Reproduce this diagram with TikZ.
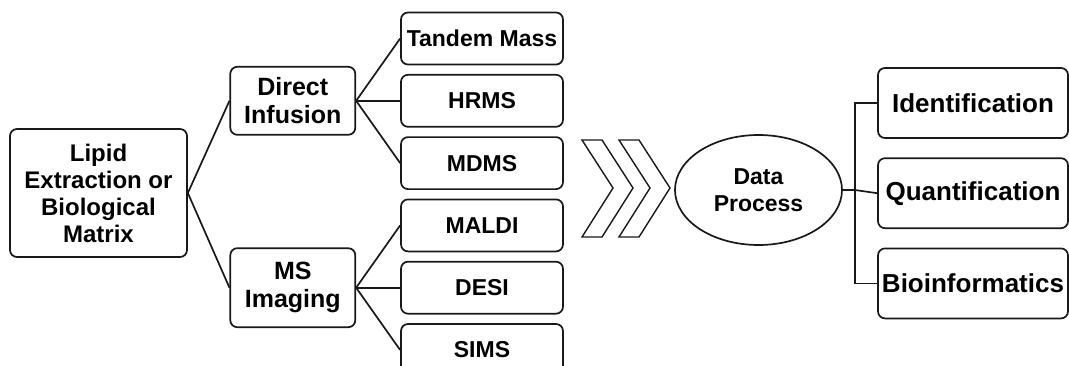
\documentclass[tikz,border=0pt]{standalone}
\usepackage{fontspec}
\setmainfont{Liberation Sans}
\usetikzlibrary{positioning,calc,shapes.geometric}

\begin{document}
\begin{tikzpicture}[
  x=1pt, y=1pt,
  line width=1.7pt,
  box/.style={rectangle, draw=black!90, rounded corners=7pt, align=center, inner sep=2pt},
  leaf/.style={box, minimum width=162pt, minimum height=52pt, font=\fontsize{23}{26}\selectfont\bfseries},
  mid/.style={box, minimum width=125pt, font=\fontsize{25}{28}\selectfont\bfseries},
  res/.style={box, minimum width=190pt, minimum height=70pt, font=\fontsize{26}{29}\selectfont\bfseries},
  link/.style={draw=black!90, line width=1.7pt},
]
\useasboundingbox (0,0) rectangle (1069,365);
% leaf column
\node[leaf] (tandem) at (482,326.5) {Tandem Mass};
\node[leaf, below=8.6pt of tandem] (hrms) {HRMS};
\node[leaf, below=8.6pt of hrms] (mdms) {MDMS};
\node[leaf, below=8.6pt of mdms] (maldi) {MALDI};
\node[leaf, below=8.6pt of maldi] (desi) {DESI};
\node[leaf, below=8.6pt of desi] (sims) {SIMS};
% methods
\node[mid, minimum height=68pt, left=44pt of hrms] (di) {Direct\\Infusion};
\node[mid, minimum height=79pt, left=44pt of desi] (msi) {MS\\Imaging};
\node[box, minimum width=177pt, minimum height=128pt, font=\fontsize{24}{27}\selectfont\bfseries] (lipid) at (98.5,172) {Lipid\\Extraction or\\Biological\\Matrix};
% data processing
\node[ellipse, draw=black!90, minimum width=167pt, minimum height=110pt, inner sep=0pt, align=center, font=\fontsize{23}{27}\selectfont\bfseries] (dp) at (758.5,175) {Data\\Process};
\node[res] (ident) at (973,262) {Identification};
\node[res, below=18.5pt of ident] (quant) {Quantification};
\node[res, below=18.5pt of quant] (bio) {Bioinformatics};
\coordinate (fork) at ($(dp.east)+(12,0)$);
% chevrons
\foreach \dx in {0,37}
  \draw[draw=black!90, line width=1.4pt, shift={(\dx,0)}] (582,225) -- (602,225) -- (633,177) -- (602,128) -- (582,128) -- (613,177) -- cycle;
% links
\draw[link] (lipid.east) -- (di.west);
\draw[link] (lipid.east) -- (msi.west);
\foreach \n in {tandem,hrms,mdms}
  \draw[link] (di.east) -- (\n.west);
\foreach \n in {maldi,desi,sims}
  \draw[link] (msi.east) -- (\n.west);
\draw[link] (dp.east) -- (fork);
\draw[link] (ident.west) -| (fork) |- (bio.west);
\draw[link] (fork) -- (quant.west);
\end{tikzpicture}
\end{document}
